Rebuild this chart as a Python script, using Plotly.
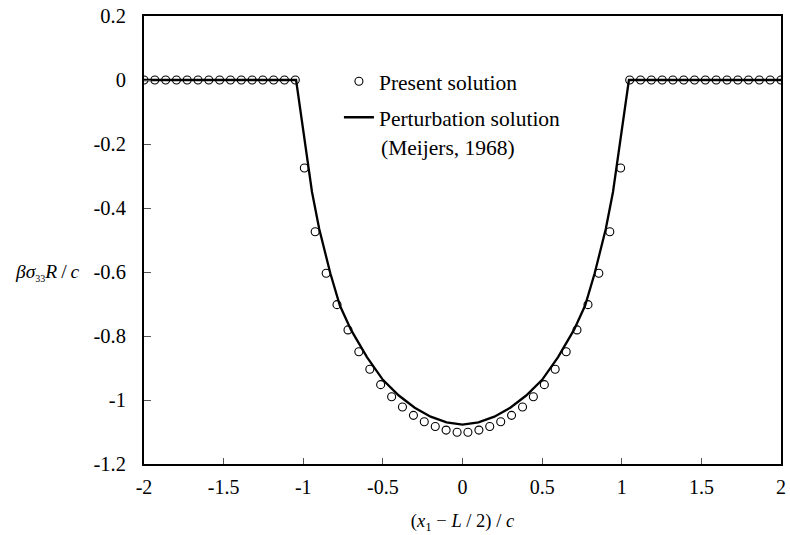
import plotly.graph_objects as go

# ---- data ----
zero_left_x = [-2.0, -1.932, -1.864, -1.796, -1.729, -1.661, -1.593, -1.525,
               -1.457, -1.389, -1.321, -1.254, -1.186, -1.118, -1.05]
zero_right_x = [1.05, 1.118, 1.186, 1.254, 1.321, 1.389, 1.457, 1.525,
                1.593, 1.661, 1.729, 1.796, 1.864, 1.932, 2.0]
curve_pos_x = [0.034, 0.103, 0.171, 0.240, 0.308, 0.377, 0.445, 0.514,
               0.582, 0.651, 0.719, 0.788, 0.856, 0.925, 0.993]
curve_pos_y = [-1.101, -1.094, -1.083, -1.068, -1.048, -1.022, -0.990, -0.952,
               -0.904, -0.849, -0.781, -0.702, -0.604, -0.474, -0.275]

present_x = (zero_left_x + [-v for v in reversed(curve_pos_x)] + curve_pos_x + zero_right_x)
present_y = ([0.0] * len(zero_left_x) + list(reversed(curve_pos_y)) + curve_pos_y
             + [0.0] * len(zero_right_x))

pert_pos_x = [0.0, 0.1, 0.2, 0.3, 0.4, 0.5, 0.6, 0.7, 0.77, 0.83, 0.9, 0.945, 1.045, 2.0]
pert_pos_y = [-1.077, -1.070, -1.052, -1.024, -0.986, -0.937, -0.866, -0.781,
              -0.705, -0.604, -0.465, -0.35, 0.0, 0.0]
pert_x = [-v for v in reversed(pert_pos_x)] + pert_pos_x[1:]
pert_y = list(reversed(pert_pos_y)) + pert_pos_y[1:]

x_ticks = [-2, -1.5, -1, -0.5, 0, 0.5, 1, 1.5, 2]
x_ticktext = ["-2", "-1.5", "-1", "-0.5", "0", "0.5", "1", "1.5", "2"]
y_ticks = [0.2, 0, -0.2, -0.4, -0.6, -0.8, -1, -1.2]
y_ticktext = ["0.2", "0", "-0.2", "-0.4", "-0.6", "-0.8", "-1", "-1.2"]

FONT = "Liberation Serif, Times New Roman, serif"
LEG = 21.5

fig = go.Figure()
fig.add_trace(go.Scatter(
    x=present_x, y=present_y, mode="markers", name="Present solution",
    legendgroup="a",
    marker=dict(symbol="circle-open", size=8, color="black", line=dict(width=1.1, color="black")),
))
fig.add_trace(go.Scatter(
    x=pert_x, y=pert_y, mode="lines", name="Perturbation solution",
    legendgroup="b",
    line=dict(color="black", width=2.3),
))

fig.update_layout(
    width=790, height=535,
    margin=dict(l=144, r=4, t=16, b=71),
    paper_bgcolor="white", plot_bgcolor="white",
    font=dict(family=FONT, size=20, color="black"),
    showlegend=True,
    legend=dict(
        x=0.306, y=0.9, xanchor="left", yanchor="top",
        bgcolor="rgba(0,0,0,0)", borderwidth=0,
        font=dict(family=FONT, size=LEG, color="black"),
        tracegroupgap=5, valign="top",
    ),
    xaxis=dict(
        range=[-2, 2], tickvals=x_ticks, ticktext=x_ticktext,
        showgrid=False, zeroline=False,
        showline=True, linecolor="black", linewidth=2, mirror=True,
        ticks="inside", ticklen=6, tickcolor="#555", tickwidth=1,
        ticklabelstandoff=4,
        tickfont=dict(family=FONT, size=20, color="black"),
        title=dict(text="(<i>x</i><sub>1</sub> − <i>L</i> / 2) / <i>c</i>",
                   font=dict(family=FONT, size=18.5, color="black"), standoff=17),
    ),
    yaxis=dict(
        range=[-1.2, 0.2], tickvals=y_ticks, ticktext=y_ticktext,
        showgrid=False, zeroline=False,
        showline=True, linecolor="black", linewidth=2, mirror=True,
        ticks="inside", ticklen=7, tickcolor="#555", tickwidth=1,
        ticklabelstandoff=12,
        tickfont=dict(family=FONT, size=20.5, color="black"),
    ),
)

fig.add_annotation(
    xref="paper", yref="y", x=-0.2056, y=-0.6, xanchor="left", yanchor="middle",
    text="<i>βσ</i><sub><span style='font-size:10px'>33</span></sub><i>R</i>\u2009/\u2009<i>c</i>",
    showarrow=False,
    font=dict(family=FONT, size=19.5, color="black"),
)
fig.add_annotation(
    xref="paper", yref="y", x=(380.7 - 144) / 642, y=-0.213, xanchor="left", yanchor="middle",
    text="(Meijers, 1968)", showarrow=False,
    font=dict(family=FONT, size=LEG, color="black"),
)

fig.write_html("out.html")
